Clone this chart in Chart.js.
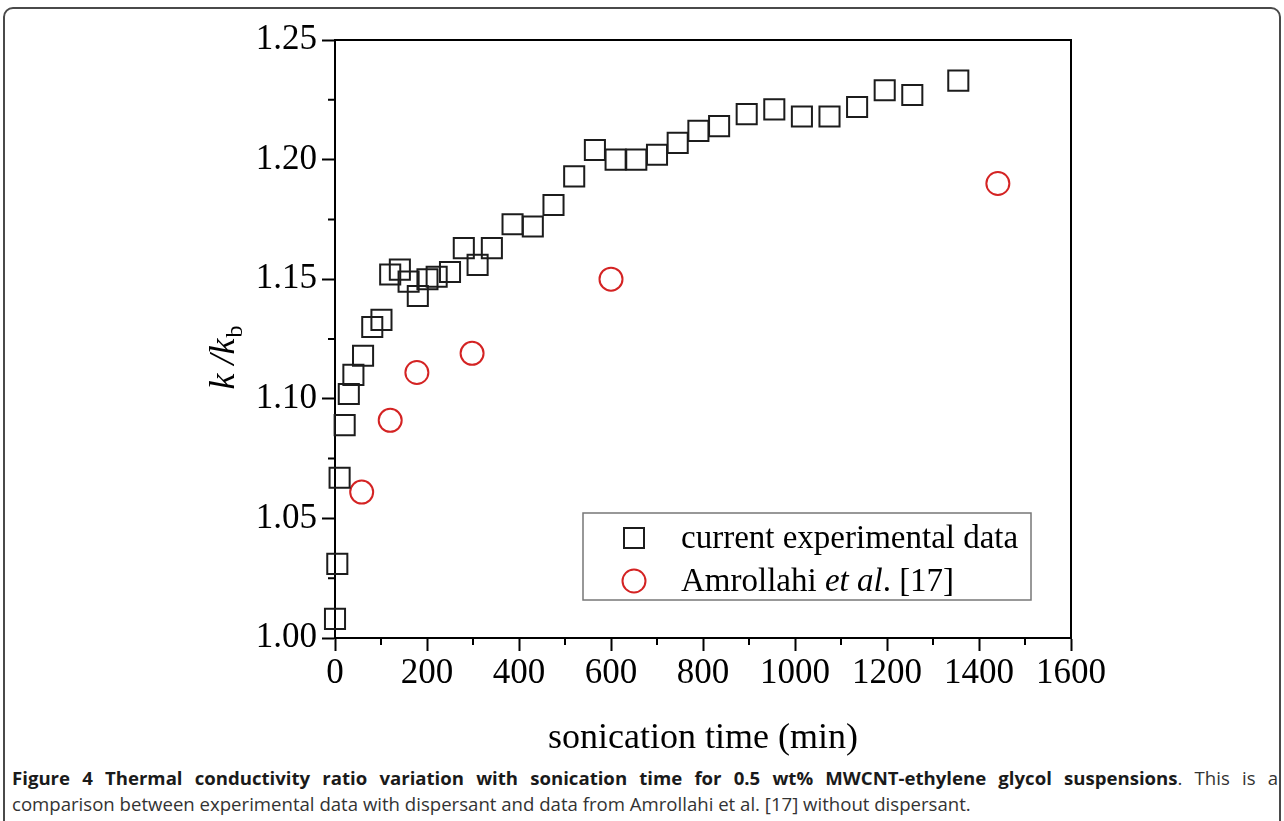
<!DOCTYPE html>
<html><head><meta charset="utf-8">
<script src="https://cdn.jsdelivr.net/npm/chart.js@4/dist/chart.umd.min.js"></script>
<style>
html,body{margin:0;padding:0;background:#fff;width:1284px;height:821px;overflow:hidden}
#frame{position:absolute;left:3px;top:7px;width:1274px;height:840px;border:2px solid #4a4a4a;border-radius:10px;}
#wrap{position:absolute;left:0;top:0;width:1284px;height:760px}
#cap{position:absolute;left:12px;top:765px;width:1266px;font-family:"Open Sans";font-size:18.6px;line-height:26px;color:#333}
#cap .l1{text-align:justify;text-align-last:justify;white-space:nowrap}
#cap b{color:#1a1a1a}
</style></head>
<body>
<div id="frame"></div>
<div id="wrap"><canvas id="c" width="1284" height="760"></canvas></div>
<div id="cap"><div class="l1"><b>Figure 4 Thermal conductivity ratio variation with sonication time for 0.5 wt% MWCNT-ethylene glycol suspensions</b>. This is a</div><div>comparison between experimental data with dispersant and data from Amrollahi et al. [17] without dispersant.</div></div>
<script>
// sonication time (min) and k/kb for current experimental data
const expTime  = [0, 5, 10, 21, 30, 40, 61, 81, 101, 120, 141, 160, 180, 201, 221, 250, 280, 310, 341, 386, 430, 475, 520, 565, 610, 655, 700, 745, 790, 835, 895, 955, 1015, 1075, 1135, 1195, 1255, 1355];
const expRatio = [1.008, 1.031, 1.067, 1.089, 1.102, 1.110, 1.118, 1.130, 1.133, 1.152, 1.154, 1.149, 1.143, 1.150, 1.151, 1.153, 1.163, 1.156, 1.163, 1.173, 1.172, 1.181, 1.193, 1.204, 1.200, 1.200, 1.202, 1.207, 1.212, 1.214, 1.219, 1.221, 1.218, 1.218, 1.222, 1.229, 1.227, 1.233];
// Amrollahi et al. [17]
const refTime  = [58, 120, 178, 298, 600, 1441];
const refRatio = [1.061, 1.091, 1.111, 1.119, 1.150, 1.190];
// axis ticks
const xMajorStep = 200, xMinorTicks = [100, 300, 500, 700, 900, 1100, 1300, 1500];
const yMajorStep = 0.05, yMinorTicks = [1.025, 1.075, 1.125, 1.175, 1.225];
const seriesNames = ['current experimental data', 'Amrollahi '];

const SERIF = '"Liberation Serif", "Times New Roman", serif';
const sqColor = '#1c1c1c', ciColor = '#d42323';

const extras = {
  id: 'extras',
  afterDraw(chart) {
    const ctx = chart.ctx, a = chart.chartArea;
    const xs = chart.scales.x, ys = chart.scales.y;
    ctx.save();
    // top and right frame lines
    ctx.strokeStyle = '#000'; ctx.lineWidth = 2;
    ctx.beginPath();
    ctx.moveTo(a.left, a.top); ctx.lineTo(a.right, a.top); ctx.lineTo(a.right, a.bottom);
    ctx.stroke();
    // minor ticks
    ctx.lineWidth = 2;
    ctx.beginPath();
    xMinorTicks.forEach(v => { const p = xs.getPixelForValue(v); ctx.moveTo(p, a.bottom); ctx.lineTo(p, a.bottom + 7); });
    yMinorTicks.forEach(v => { const p = ys.getPixelForValue(v); ctx.moveTo(a.left, p); ctx.lineTo(a.left - 7, p); });
    ctx.stroke();
    // x title
    ctx.fillStyle = '#000';
    ctx.font = '36px ' + SERIF;
    ctx.textAlign = 'center'; ctx.textBaseline = 'alphabetic';
    ctx.fillText('sonication time (min)', (a.left + a.right) / 2, 748);
    // y title  k /k_b
    ctx.save();
    ctx.translate(222, 358);
    ctx.rotate(-Math.PI / 2);
    ctx.textAlign = 'left';
    ctx.font = 'italic 36px ' + SERIF;
    const main = 'k /k';
    const w1 = ctx.measureText(main).width;
    ctx.font = '24px ' + SERIF;
    const w2 = ctx.measureText('b').width;
    const x0 = -(w1 + w2) / 2;
    ctx.font = 'italic 36px ' + SERIF;
    ctx.fillText(main, x0, 12);
    ctx.font = '24px ' + SERIF;
    ctx.fillText('b', x0 + w1 + 1, 20);
    ctx.restore();
    // legend
    ctx.fillStyle = '#fff';
    ctx.fillRect(583, 513, 448, 87);
    ctx.strokeStyle = '#777'; ctx.lineWidth = 1.5;
    ctx.strokeRect(583, 513, 448, 87);
    ctx.lineWidth = 2;
    ctx.strokeStyle = sqColor;
    ctx.strokeRect(634 - 10, 538 - 10, 20, 20);
    ctx.strokeStyle = ciColor;
    ctx.beginPath(); ctx.arc(634, 581, 11.5, 0, Math.PI * 2); ctx.stroke();
    ctx.fillStyle = '#000';
    ctx.textAlign = 'left';
    ctx.font = '33px ' + SERIF;
    ctx.fillText(seriesNames[0], 681, 548);
    let x = 681;
    ctx.fillText(seriesNames[1], x, 591); x += ctx.measureText(seriesNames[1]).width;
    ctx.font = 'italic 33px ' + SERIF;
    ctx.fillText('et al', x, 591); x += ctx.measureText('et al').width;
    ctx.font = '33px ' + SERIF;
    ctx.fillText('. [17]', x, 591);
    ctx.restore();
  }
};

new Chart(document.getElementById('c'), {
  type: 'scatter',
  data: {
    datasets: [
      { label: seriesNames[0], data: expTime.map((t, i) => ({ x: t, y: expRatio[i] })),
        pointStyle: 'rect', pointRadius: 14.2, borderColor: sqColor, borderWidth: 2,
        backgroundColor: 'rgba(0,0,0,0)', clip: false },
      { label: 'Amrollahi et al. [17]', data: refTime.map((t, i) => ({ x: t, y: refRatio[i] })),
        pointStyle: 'circle', pointRadius: 11.5, borderColor: ciColor, borderWidth: 2,
        backgroundColor: 'rgba(0,0,0,0)', clip: false }
    ]
  },
  options: {
    responsive: false, animation: false, devicePixelRatio: 1, events: [],
    layout: { padding: { top: 40, right: 213, left: 0, bottom: 0 } },
    plugins: { legend: { display: false }, tooltip: { enabled: false } },
    scales: {
      x: {
        type: 'linear', min: 0, max: 1600,
        ticks: { stepSize: xMajorStep, color: '#000', font: { family: SERIF, size: 35 }, padding: 2, maxRotation: 0,
                 callback: v => String(Math.round(v)) },
        grid: { drawOnChartArea: false, drawTicks: true, tickLength: 13, tickWidth: 2, color: '#000' },
        border: { display: true, color: '#000', width: 2 },
        afterFit: s => { s.height = 122; }
      },
      y: {
        type: 'linear', min: 1.0, max: 1.25,
        ticks: { stepSize: yMajorStep, color: '#000', font: { family: SERIF, size: 35 }, padding: 5,
                 callback: v => Number(v).toFixed(2) },
        grid: { drawOnChartArea: false, drawTicks: true, tickLength: 13, tickWidth: 2, color: '#000' },
        border: { display: true, color: '#000', width: 2 },
        afterFit: s => { s.width = 335; }
      }
    }
  },
  plugins: [extras]
});
</script>
</body></html>
